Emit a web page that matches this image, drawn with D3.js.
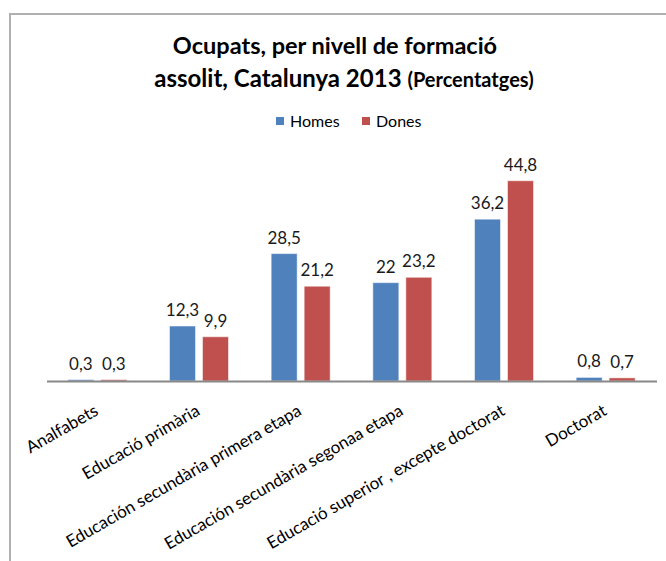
<!DOCTYPE html>
<html><head><meta charset="utf-8">
<script src="https://cdn.jsdelivr.net/npm/d3@7"></script>
<style>body{margin:0;background:#fff}svg{display:block}</style>
</head><body>
<svg id="c" width="666" height="561"></svg>
<script>
const categories = ["Analfabets","Educació primària","Educación secundària primera etapa","Educación secundària segonaa  etapa","Educació superior , excepte doctorat","Doctorat"];
const homes = [0.3,12.3,28.5,22,36.2,0.8];
const dones = [0.3,9.9,21.2,23.2,44.8,0.7];
const seriesNames = ["Homes","Dones"];
const colors = ["#4F81BD","#C0504D"];

const svg = d3.select("#c");
const font = "Lato, 'Open Sans', sans-serif";
// frame
svg.append("path").attr("d","M10,561 V14 H666").attr("fill","none").attr("stroke","#b0b0b0").attr("stroke-width",2);

// title
const t = svg.append("text").attr("text-anchor","middle").attr("font-family",font).attr("font-weight","bold").attr("fill","#000");
t.append("tspan").attr("x",335).attr("y",54).attr("font-size",23.5).text("Ocupats, per nivell de formació");
const t2 = t.append("tspan").attr("x",344).attr("y",87).attr("font-size",24).text("assolit, Catalunya 2013 ");
t2.append("tspan").attr("font-size",20).text("(Percentatges)");

// legend
const lg = svg.append("g").attr("font-family",font).attr("font-size",16);
const lx = [276,362];
seriesNames.forEach((s,i)=>{
  lg.append("rect").attr("x",lx[i]).attr("y",117).attr("width",8).attr("height",8).attr("fill",colors[i]);
  lg.append("text").attr("x",lx[i]+14).attr("y",127).attr("fill","#000").text(s);
});

const x = d3.scaleBand().domain(categories).range([46.5,656.5]);
const y = d3.scaleLinear().domain([0,50]).range([381,157.5]);
const off = [-16.5,16.5], bw = 26;
const data = [homes,dones];
data.forEach((vals,si)=>{
  const g = svg.append("g");
  g.selectAll("rect").data(vals).join("rect")
    .attr("x",(d,i)=>x(categories[i])+x.bandwidth()/2+off[si]-bw/2)
    .attr("y",d=>y(d)).attr("width",bw).attr("height",d=>y(0)-y(d))
    .attr("fill",colors[si]).attr("stroke","#fff").attr("stroke-opacity",0.5).attr("stroke-width",1);
  g.selectAll("text").data(vals).join("text")
    .attr("x",(d,i)=>x(categories[i])+x.bandwidth()/2+off[si])
    .attr("y",d=>y(d)-10).attr("text-anchor","middle")
    .attr("font-family",font).attr("font-size",17).attr("fill","#1a1a1a")
    .text(d=>String(d).replace(".",","));
});

// axis
const ax = svg.append("g").attr("transform","translate(0,381)").call(d3.axisBottom(x).tickSize(0).tickPadding(0));
ax.select(".domain").attr("stroke","#888").attr("stroke-width",2);
ax.selectAll(".tick text").attr("font-family",font).attr("font-size",17).attr("fill","#000")
  .attr("text-anchor","end").attr("dy",0).attr("transform","translate(2,33) rotate(-30)");
</script>
</body></html>
